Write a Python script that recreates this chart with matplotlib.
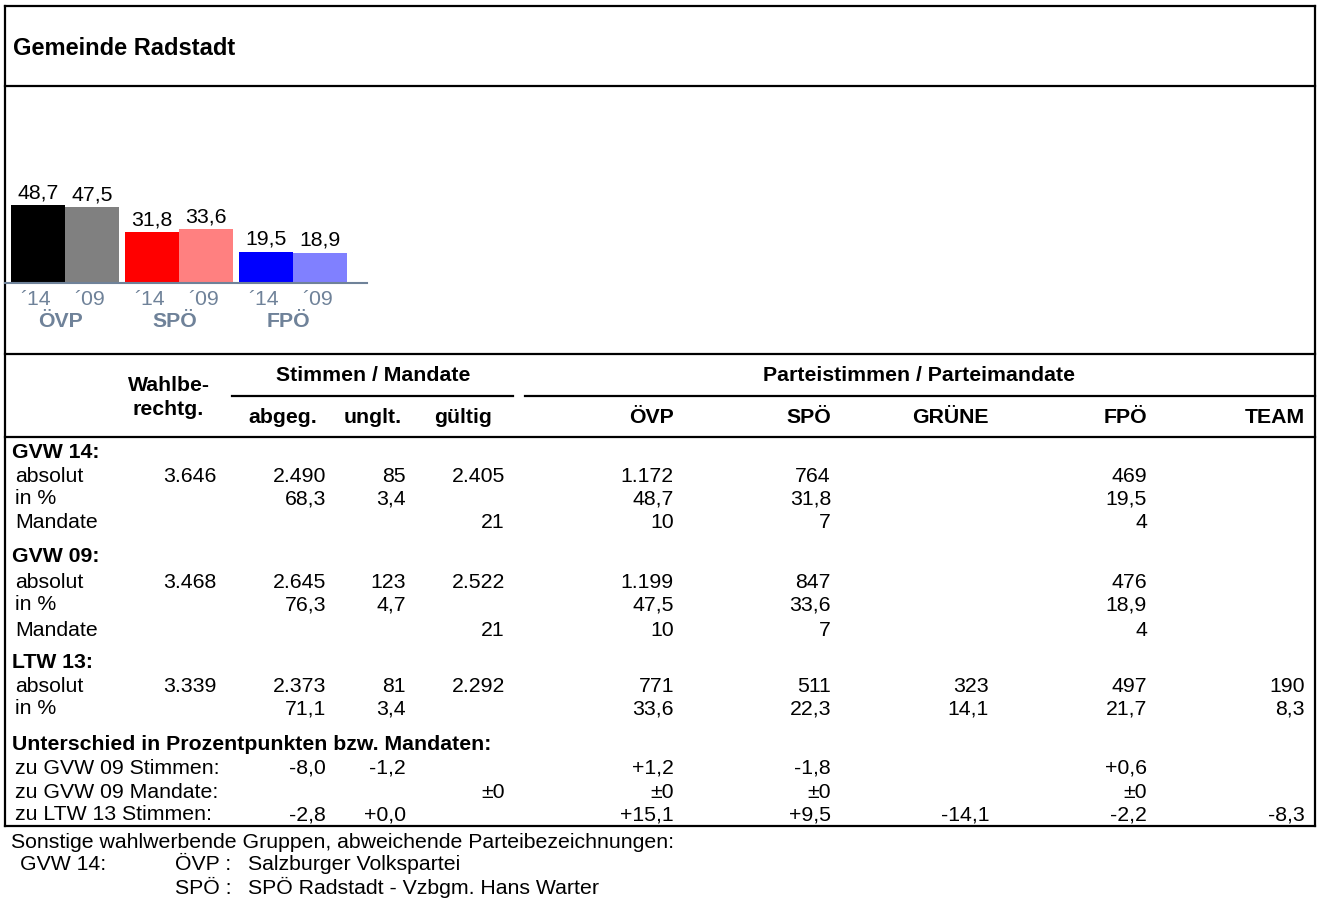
import matplotlib
matplotlib.use("Agg")
import matplotlib.pyplot as plt

plt.rcParams["font.family"] = ["Liberation Sans", "DejaVu Sans"]

# ─── Data ───────────────────────────────────────────────────
TITLE = "Gemeinde Radstadt"

BAR_PARTIES = ["ÖVP", "SPÖ", "FPÖ"]
PCT_14 = [48.7, 31.8, 19.5]
PCT_09 = [47.5, 33.6, 18.9]
YEAR_LABELS = ["´14", "´09"]
COLORS_14 = ["#000000", "#ff0000", "#0000ff"]
COLORS_09 = ["#808080", "#ff8080", "#8080ff"]

TABLE_PARTIES = ["ÖVP", "SPÖ", "GRÜNE", "FPÖ", "TEAM"]
STIMMEN_COLS = ["abgeg.", "unglt.", "gültig"]

# each row: label, wahlberechtigt, abgeg, unglt, gueltig, ÖVP, SPÖ, GRÜNE, FPÖ, TEAM
GVW14_ROWS = [
    ["absolut", "3.646", "2.490", "85", "2.405", "1.172", "764", "", "469", ""],
    ["in %", "", "68,3", "3,4", "", "48,7", "31,8", "", "19,5", ""],
    ["Mandate", "", "", "", "21", "10", "7", "", "4", ""],
]
GVW09_ROWS = [
    ["absolut", "3.468", "2.645", "123", "2.522", "1.199", "847", "", "476", ""],
    ["in %", "", "76,3", "4,7", "", "47,5", "33,6", "", "18,9", ""],
    ["Mandate", "", "", "", "21", "10", "7", "", "4", ""],
]
LTW13_ROWS = [
    ["absolut", "3.339", "2.373", "81", "2.292", "771", "511", "323", "497", "190"],
    ["in %", "", "71,1", "3,4", "", "33,6", "22,3", "14,1", "21,7", "8,3"],
]
DIFF_ROWS = [
    ["zu GVW 09 Stimmen:", "", "-8,0", "-1,2", "", "+1,2", "-1,8", "", "+0,6", ""],
    ["zu GVW 09 Mandate:", "", "", "", "±0", "±0", "±0", "", "±0", ""],
    ["zu LTW 13 Stimmen:", "", "-2,8", "+0,0", "", "+15,1", "+9,5", "-14,1", "-2,2", "-8,3"],
]
SECTIONS = [
    ("GVW 14:", GVW14_ROWS),
    ("GVW 09:", GVW09_ROWS),
    ("LTW 13:", LTW13_ROWS),
    ("Unterschied in Prozentpunkten bzw. Mandaten:", DIFF_ROWS),
]

FOOTNOTE_HEAD = "Sonstige wahlwerbende Gruppen, abweichende Parteibezeichnungen:"
FOOTNOTE_ELECTION = "GVW 14:"
FOOTNOTE_PARTIES = [("ÖVP :", "Salzburger Volkspartei"),
                    ("SPÖ :", "SPÖ Radstadt - Vzbgm. Hans Warter")]

# ─── Layout (pixels) ────────────────────────────────────────
W, H = 1317, 899
FS = 15.3
SLATE = "#6f8299"
LW = 1.6

fig = plt.figure(figsize=(W / 100, H / 100), dpi=100, facecolor="white")

# overlay in pixel coordinates for frame + table
lay = fig.add_axes([0, 0, 1, 1])
lay.set_xlim(0, W)
lay.set_ylim(H, 0)
lay.axis("off")


def hline(y, x0, x1, lw=LW):
    lay.plot([x0, x1], [y, y], color="black", lw=lw, solid_capstyle="projecting")


def vline(x, y0, y1, lw=LW):
    lay.plot([x, x], [y0, y1], color="black", lw=lw, solid_capstyle="projecting")


# frame
hline(6, 5, 1315)
hline(86, 5, 1315)
hline(354, 5, 1315)
hline(396, 232, 513)
hline(396, 525, 1315)
hline(437, 5, 1315)
hline(826, 5, 1315)
vline(5, 6, 826)
vline(1315, 6, 826)

lay.text(13, 55, TITLE, fontsize=17, fontweight="bold", va="baseline", ha="left")

# ─── Bar chart ──────────────────────────────────────────────
bar_px = 54.0
gap = 6.0 / bar_px
pitch = 2 + gap
bx0, bx1, base_y, top_y = 5, 367, 283, 203
ax = fig.add_axes([bx0 / W, (H - base_y) / H, (bx1 - bx0) / W, (base_y - top_y) / H])
ax.set_xlim(-gap, (bx1 - 11) / bar_px)
ax.set_ylim(0, 50)
ax.axis("off")

for g, party in enumerate(BAR_PARTIES):
    for j, (vals, cols) in enumerate([(PCT_14, COLORS_14), (PCT_09, COLORS_09)]):
        left = g * pitch + j
        ax.bar(left, vals[g], width=1, align="edge", color=cols[g], edgecolor="none")
        cx = left + 0.5
        ax.annotate(f"{vals[g]:.1f}".replace(".", ","), xy=(cx, vals[g]),
                    xytext=(0, 5), textcoords="offset points",
                    ha="center", va="baseline", fontsize=FS, annotation_clip=False)
        ax.annotate(YEAR_LABELS[j], xy=(cx - 0.04, 0), xytext=(0, -22 * 0.72),
                    textcoords="offset points", ha="center", va="baseline",
                    fontsize=FS, color=SLATE, annotation_clip=False)
    ax.annotate(party, xy=(g * pitch + 1 - 0.08, 0), xytext=(0, -44 * 0.72),
                textcoords="offset points", ha="center", va="baseline",
                fontsize=FS, fontweight="bold", color=SLATE, annotation_clip=False)
ax.axhline(0, color=SLATE, lw=1.5, clip_on=False)

# ─── Table header ───────────────────────────────────────────
lay.text(169, 391, "Wahlbe-", fontsize=FS, fontweight="bold", ha="center", va="baseline")
lay.text(168, 415, "rechtg.", fontsize=FS, fontweight="bold", ha="center", va="baseline")
lay.text(373, 381, "Stimmen / Mandate", fontsize=FS, fontweight="bold", ha="center", va="baseline")
lay.text(919, 381, "Parteistimmen / Parteimandate", fontsize=FS, fontweight="bold",
         ha="center", va="baseline")
for x, lab in zip([283, 373, 463], STIMMEN_COLS):
    lay.text(x, 423, lab, fontsize=FS, fontweight="bold", ha="center", va="baseline")

num_right = [216, 326, 406, 505, 674, 831, 989, 1147, 1305]
for x, lab in zip(num_right[4:], TABLE_PARTIES):
    lay.text(x, 423, lab, fontsize=FS, fontweight="bold", ha="right", va="baseline")

# ─── Table body ─────────────────────────────────────────────
section_y = [451, 555, 661, 742]
row_y = [[474, 497, 521], [580, 603, 628], [684, 707], [766, 790, 813]]
for (head, rows), sy, ys in zip(SECTIONS, section_y, row_y):
    lay.text(12, sy + 7.5, head, fontsize=FS, fontweight="bold", ha="left", va="baseline")
    for row, y in zip(rows, ys):
        lay.text(15, y + 7.5, row[0], fontsize=FS, ha="left", va="baseline")
        for x, val in zip(num_right, row[1:]):
            if val:
                lay.text(x, y + 7.5, val, fontsize=FS, ha="right", va="baseline")

# ─── Footnote ───────────────────────────────────────────────
lay.text(11, 848, FOOTNOTE_HEAD, fontsize=FS, ha="left", va="baseline")
lay.text(20, 870, FOOTNOTE_ELECTION, fontsize=FS, ha="left", va="baseline")
for (p, name), y in zip(FOOTNOTE_PARTIES, [870, 894]):
    lay.text(175, y, p, fontsize=FS, ha="left", va="baseline")
    lay.text(248, y, name, fontsize=FS, ha="left", va="baseline")

fig.savefig("out.png", dpi=100, facecolor="white")
